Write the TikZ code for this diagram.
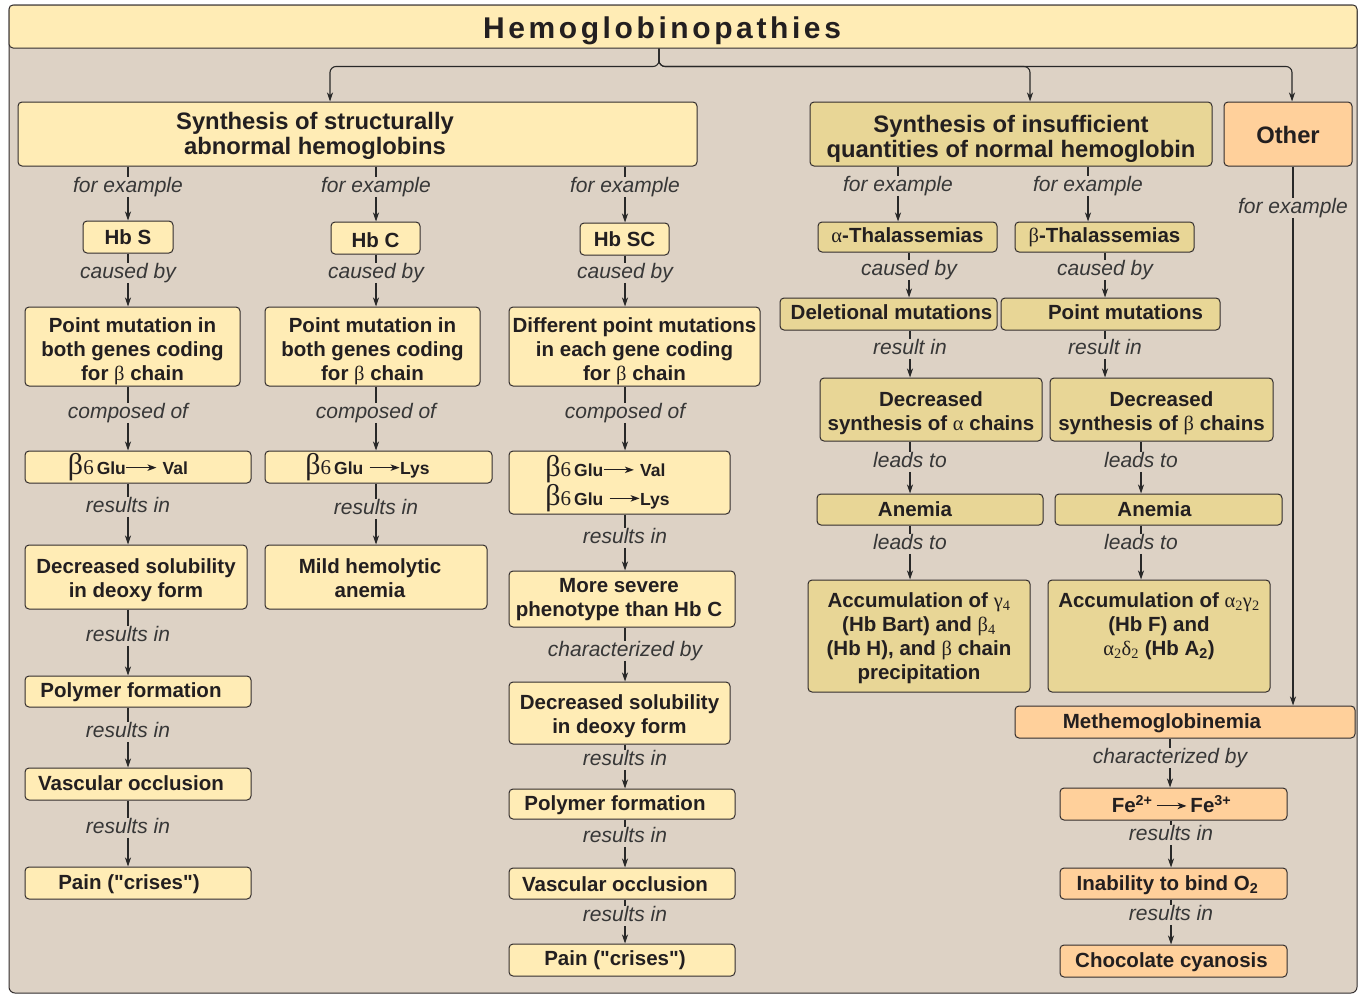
\documentclass[tikz,border=0pt]{standalone}
\usepackage{fontspec}
\setmainfont{Liberation Sans}[Ligatures=TeXOff]
\newfontfamily\grk{Liberation Serif}
\newfontfamily\ttlfont[LetterSpace=12]{Liberation Sans}
\usetikzlibrary{arrows.meta}
\definecolor{bg}{RGB}{221,210,197}
\definecolor{ylw}{RGB}{255,236,181}
\definecolor{khk}{RGB}{232,214,150}
\definecolor{org}{RGB}{255,208,155}
\definecolor{boxline}{RGB}{50,45,45}
\definecolor{txt}{RGB}{35,31,32}
\definecolor{labc}{RGB}{55,55,55}
\definecolor{linec}{RGB}{40,40,40}
\newsavebox\glarrbox
\newcommand\gk[1]{{\grk\mdseries #1}}
\newcommand\sm[1]{{\fontsize{17.5}{17.5}\selectfont #1}}
\newcommand\garr{\raisebox{3.5pt}{\usebox\glarrbox}}
\newcommand\bglu{{\grk\mdseries\fontsize{30}{30}\selectfont β}{\grk\mdseries\fontsize{21}{21}\selectfont 6}\hspace{3pt}\sm{Glu}}
\newcommand\hbbox[9]{\node[#1,minimum width={(#5-#3)*1pt},minimum height={(#6-#4)*1pt}] (#2) at ({(#3+#5)/2},{(#4+#6)/2}) {};
  \node[#1,draw=none,fill=none,minimum width=0pt,minimum height=0pt] (#2t) at ({(#3+#5)/2+#7},{(#4+#6)/2+#8}) {#9};}
\newcommand\conn[3]{\draw[ln] (#2 |- #1.south) -- (#2.north); \draw[arr] (#2.south) -- (#2 |- #3.north);}
\tikzset{
  bx/.style={draw=boxline, line width=1pt, rounded corners=4pt, inner sep=0pt, align=center, text=txt, font=\bfseries\fontsize{20.5}{24}\selectfont},
  ybox/.style={bx, fill=ylw},
  kbox/.style={bx, fill=khk},
  obox/.style={bx, fill=org},
  lone/.style={font=\bfseries\fontsize{23.8}{25}\selectfont},
  lab/.style={font=\itshape\fontsize{21}{24}\selectfont, text=labc, inner sep=0pt, text height=15pt, text depth=4.5pt, yshift=-2pt},
  ln/.style={draw=linec, line width=1.1pt},
  arr/.style={ln, -{Stealth[length=9pt,width=6pt,inset=2.5pt]}},
}
\begin{document}
\sbox\glarrbox{\color{txt}\begin{pgfpicture}\pgfsetlinewidth{1.1pt}\pgfsetarrowsend{Stealth[length=9pt,width=6.5pt,inset=2.5pt]}\pgfpathmoveto{\pgfpoint{0pt}{0pt}}\pgfpathlineto{\pgfpoint{30pt}{0pt}}\pgfusepath{stroke}\end{pgfpicture}}
\begin{tikzpicture}[x=1pt,y=-1pt]
\useasboundingbox (0,0) rectangle (1358,994);
\fill[white] (0,0) rectangle (1358,994);
\draw[fill=bg, draw=boxline, line width=1pt, rounded corners=6pt] (9,5) rectangle (1357,993);
% title
\hbbox{ybox}{title}{9}{5}{1357}{48}{-21}{4}{\ttlfont\bfseries\fontsize{30}{30}\selectfont Hemoglobinopathies}
% level 1
\hbbox{ybox,lone}{A}{18}{102}{697}{166}{-42.5}{2}{Synthesis of structurally\\abnormal hemoglobins}
\hbbox{kbox,lone}{B}{810}{102}{1212}{166}{0}{4.5}{Synthesis of insufficient\\quantities of normal hemoglobin}
\hbbox{obox,lone}{C}{1224}{102}{1352}{166}{0}{1}{Other}
\coordinate (sp) at (659,48);
\draw[arr, rounded corners=6pt] (title.south -| sp) -- ++(0,18) -| ([xshift=-27.5pt]A.north);
\draw[arr, rounded corners=6pt] (title.south -| sp) -- ++(0,18) -| ([xshift=19pt]B.north);
\draw[arr, rounded corners=6pt] (title.south -| sp) -- ++(0,18) -| ([xshift=4pt]C.north);
% column 1
\hbbox{ybox}{hbs}{83}{221}{173}{253}{0}{0}{Hb S}
\hbbox{ybox}{pm1}{25}{307}{240}{386}{0}{5}{Point mutation in\\both genes coding\\for \gk{β} chain}
\hbbox{ybox}{gv1}{25}{451}{251}{483}{-10}{0}{\bglu\garr\ \sm{Val}}
\hbbox{ybox}{ds1}{25}{545}{247}{609}{0}{3}{Decreased solubility\\in deoxy form}
\hbbox{ybox}{pf1}{25}{676}{251}{707}{-7}{1}{Polymer formation}
\hbbox{ybox}{vo1}{25}{768}{251}{800}{-7}{-1}{Vascular occlusion}
\hbbox{ybox}{pn1}{25}{867}{251}{899}{-9}{1}{Pain ("crises")}
\node[lab] (fe1) at (128,185) {for example};
\node[lab] (cb1) at (128,271) {caused by};
\node[lab] (co1) at (128,411) {composed of};
\node[lab] (r1a) at (128,505) {results in};
\node[lab] (r1b) at (128,634) {results in};
\node[lab] (r1c) at (128,730) {results in};
\node[lab] (r1d) at (128,826) {results in};
\conn{A}{fe1}{hbs}
\conn{hbs}{cb1}{pm1}
\conn{pm1}{co1}{gv1}
\conn{gv1}{r1a}{ds1}
\conn{ds1}{r1b}{pf1}
\conn{pf1}{r1c}{vo1}
\conn{vo1}{r1d}{pn1}
% column 2
\hbbox{ybox}{hbc}{331}{222}{420}{254}{0}{2}{Hb C}
\hbbox{ybox}{pm2}{265}{307}{480}{386}{0}{5}{Point mutation in\\both genes coding\\for \gk{β} chain}
\hbbox{ybox}{gl2}{265}{451}{492}{483}{-11}{0}{\bglu\ \garr\sm{Lys}}
\hbbox{ybox}{mh2}{265}{545}{487}{609}{-6}{1}{Mild hemolytic\\anemia}
\node[lab] (fe2) at (376,185) {for example};
\node[lab] (cb2) at (376,271) {caused by};
\node[lab] (co2) at (376,411) {composed of};
\node[lab] (r2a) at (376,507) {results in};
\conn{A}{fe2}{hbc}
\conn{hbc}{cb2}{pm2}
\conn{pm2}{co2}{gl2}
\conn{gl2}{r2a}{mh2}
% column 3
\hbbox{ybox}{hsc}{580}{223}{669}{255}{0}{0}{Hb SC}
\hbbox{ybox}{dp3}{509}{307}{760}{386}{0}{5}{Different point mutations\\in each gene coding\\for \gk{β} chain}
\hbbox{ybox,align=left}{gg3}{509}{451}{730}{514}{-12}{1}{\bglu\garr\ \sm{Val}\\\bglu\ \garr\sm{Lys}}
\hbbox{ybox}{ms3}{509}{571}{735}{627}{-3}{1}{More severe\\phenotype than Hb C}
\hbbox{ybox}{ds3}{509}{682}{730}{744}{0}{3}{Decreased solubility\\in deoxy form}
\hbbox{ybox}{pf3}{509}{789}{735}{819}{-7}{1}{Polymer formation}
\hbbox{ybox}{vo3}{509}{868}{735}{899}{-7}{1}{Vascular occlusion}
\hbbox{ybox}{pn3}{509}{944}{735}{976}{-7}{0}{Pain ("crises")}
\node[lab] (fe3) at (625,185) {for example};
\node[lab] (cb3) at (625,271) {caused by};
\node[lab] (co3) at (625,411) {composed of};
\node[lab] (r3a) at (625,536) {results in};
\node[lab] (ch3) at (625,649) {characterized by};
\node[lab] (r3b) at (625,758) {results in};
\node[lab] (r3c) at (625,835) {results in};
\node[lab] (r3d) at (625,914) {results in};
\conn{A}{fe3}{hsc}
\conn{hsc}{cb3}{dp3}
\conn{dp3}{co3}{gg3}
\conn{gg3}{r3a}{ms3}
\conn{ms3}{ch3}{ds3}
\conn{ds3}{r3b}{pf3}
\conn{pf3}{r3c}{vo3}
\conn{vo3}{r3d}{pn3}
% column 4 (alpha)
\hbbox{kbox}{at4}{818}{222}{997}{252}{0}{-2}{\gk{α}-Thalassemias}
\hbbox{kbox}{dm4}{780}{298}{997}{330}{3}{-2}{Deletional mutations}
\hbbox{kbox}{da4}{820}{378}{1042}{441}{0}{4}{Decreased\\synthesis of \gk{α} chains}
\hbbox{kbox}{an4}{817}{494}{1043}{525}{-15}{0}{Anemia}
\hbbox{kbox}{ac4}{808}{580}{1030}{692}{0}{2}{Accumulation of \gk{γ\textsubscript{4}}\\(Hb Bart) and \gk{β\textsubscript{4}}\\(Hb H), and \gk{β} chain\\precipitation}
\node[lab] (fe4) at (898,184) {for example};
\node[lab] (cb4) at (909,268) {caused by};
\node[lab] (ri4) at (910,347) {result in};
\node[lab] (lt4a) at (910,460) {leads to};
\node[lab] (lt4b) at (910,542) {leads to};
\conn{B}{fe4}{at4}
\conn{at4}{cb4}{dm4}
\conn{dm4}{ri4}{da4}
\conn{da4}{lt4a}{an4}
\conn{an4}{lt4b}{ac4}
% column 5 (beta)
\hbbox{kbox}{bt5}{1015}{222}{1194}{252}{0}{0}{\gk{β}-Thalassemias}
\hbbox{kbox}{pm5}{1001}{298}{1220}{330}{15}{-2}{Point mutations}
\hbbox{kbox}{db5}{1050}{378}{1273}{441}{0}{4}{Decreased\\synthesis of \gk{β} chains}
\hbbox{kbox}{an5}{1055}{494}{1282}{525}{-14}{0}{Anemia}
\hbbox{kbox}{ac5}{1048}{580}{1270}{692}{0}{-10}{Accumulation of \gk{α\textsubscript{2}γ\textsubscript{2}}\\(Hb F) and\\\gk{α\textsubscript{2}δ\textsubscript{2}} (Hb A\textsubscript{2})}
\node[lab] (fe5) at (1088,184) {for example};
\node[lab] (cb5) at (1105,268) {caused by};
\node[lab] (ri5) at (1105,347) {result in};
\node[lab] (lt5a) at (1141,460) {leads to};
\node[lab] (lt5b) at (1141,542) {leads to};
\conn{B}{fe5}{bt5}
\conn{bt5}{cb5}{pm5}
\conn{pm5}{ri5}{db5}
\conn{db5}{lt5a}{an5}
\conn{an5}{lt5b}{ac5}
% column 6 (other)
\hbbox{obox}{me6}{1015}{706}{1355}{738}{-23}{1}{Methemoglobinemia}
\hbbox{obox}{fe6b}{1060}{788}{1287}{820}{-2}{0}{Fe\textsuperscript{2+}\,\garr\,Fe\textsuperscript{3+}}
\hbbox{obox}{ib6}{1060}{868}{1287}{899}{-6}{2}{Inability to bind O\textsubscript{2}}
\hbbox{obox}{cc6}{1060}{945}{1287}{977}{-2}{1}{Chocolate cyanosis}
\node[lab] (fe6) at (1293,206) {for example};
\node[lab] (ch6) at (1170,756) {characterized by};
\node[lab] (r6a) at (1171,833) {results in};
\node[lab] (r6b) at (1171,913) {results in};
\conn{C}{fe6}{me6}
\conn{me6}{ch6}{fe6b}
\conn{fe6b}{r6a}{ib6}
\conn{ib6}{r6b}{cc6}
\end{tikzpicture}
\end{document}
